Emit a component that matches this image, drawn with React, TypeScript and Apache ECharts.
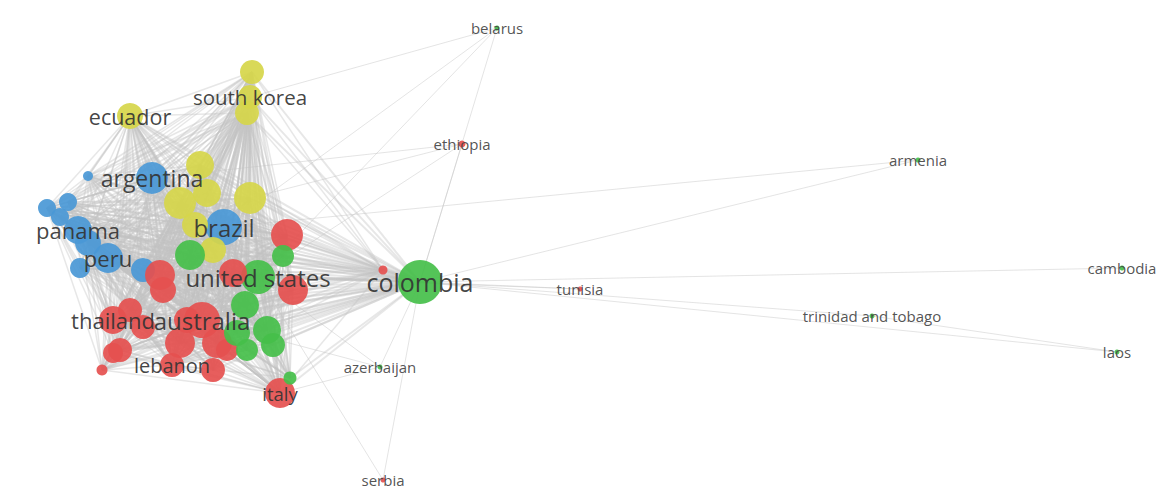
import React, { useEffect, useRef } from "react";
import * as echarts from "echarts";

// ---- data ----
const nodeNames = [
  "colombia", "united states", "brazil", "argentina", "panama", "peru", "thailand", "australia",
  "lebanon", "italy", "ecuador", "south korea",
  "belarus", "ethiopia", "armenia", "cambodia", "tunisia", "trinidad and tobago", "laos", "azerbaijan", "serbia",
  "y1", "y2", "y3", "y4", "y5", "y6", "y7", "y8",
  "b1", "b2", "b3", "b4", "b5", "b6", "b7",
  "r1", "r2", "r3", "r4", "r5", "r6", "r7", "r8", "r9", "r10", "r11", "r12", "r13", "r14", "r15", "r16",
  "g1", "g2", "g3", "g4", "g5", "g6", "g7", "g8",
];
const nodeX = [
  420, 258, 224, 152, 78, 108, 113, 202,
  172, 280, 130, 250,
  497, 462, 918, 1122, 580, 872, 1117, 380, 383,
  252, 247, 200, 180, 207, 250, 195, 213,
  88, 47, 68, 60, 88, 80, 143,
  287, 160, 163, 233, 293, 130, 143, 120, 113, 102, 180, 217, 187, 213, 227, 383,
  283, 190, 245, 267, 237, 273, 247, 290,
];
const nodeY = [
  282, 277, 227, 178, 230, 258, 320, 320,
  365, 393, 116, 97,
  28, 144, 160, 268, 289, 316, 352, 367, 480,
  72, 113, 165, 203, 193, 198, 225, 250,
  176, 208, 202, 217, 243, 268, 270,
  235, 275, 290, 273, 290, 310, 327, 350, 353, 370, 343, 343, 320, 370, 350, 270,
  256, 255, 305, 330, 333, 345, 350, 378,
];
const nodeWeight = [
  44, 34, 36, 32, 28, 30, 28, 36,
  24, 30, 26, 24,
  5, 7, 5, 5, 5, 5, 5, 5, 5,
  24, 24, 28, 32, 28, 32, 26, 26,
  10, 18, 18, 18, 26, 20, 24,
  32, 30, 26, 28, 30, 24, 24, 24, 20, 11, 30, 30, 26, 24, 22, 9,
  22, 30, 28, 28, 26, 24, 22, 13,
];
const nodeCluster = [
  "green", "green", "blue", "blue", "blue", "blue", "red", "red",
  "red", "red", "yellow", "yellow",
  "green", "red", "green", "green", "red", "green", "green", "green", "red",
  "yellow", "yellow", "yellow", "yellow", "yellow", "yellow", "yellow", "yellow",
  "blue", "blue", "blue", "blue", "blue", "blue", "blue",
  "red", "red", "red", "red", "red", "red", "red", "red", "red", "red", "red", "red", "red", "red", "red", "red",
  "green", "green", "green", "green", "green", "green", "green", "green",
];
const labelled = [
  "colombia", "united states", "brazil", "argentina", "panama", "peru", "thailand", "australia",
  "lebanon", "italy", "ecuador", "south korea",
  "belarus", "ethiopia", "armenia", "cambodia", "tunisia", "trinidad and tobago", "laos", "azerbaijan", "serbia",
];
// hubs connected to every node of the main cluster
const hubs = [
  "colombia", "united states", "brazil", "australia", "argentina", "south korea", "ecuador", "italy",
  "peru", "panama", "thailand", "lebanon", "y1", "y2", "y3", "y4", "y6", "r1", "g2", "r5", "b5", "r11",
  "g3", "g4", "r2", "b2",
];
const outlierLinks: [string, string][] = [
  ["belarus", "colombia"], ["belarus", "brazil"], ["belarus", "south korea"], ["belarus", "united states"],
  ["ethiopia", "colombia"], ["ethiopia", "argentina"], ["ethiopia", "united states"], ["ethiopia", "y6"],
  ["armenia", "colombia"], ["armenia", "brazil"],
  ["cambodia", "colombia"],
  ["tunisia", "colombia"], ["tunisia", "united states"],
  ["trinidad and tobago", "colombia"],
  ["laos", "colombia"], ["laos", "trinidad and tobago"],
  ["azerbaijan", "colombia"], ["azerbaijan", "united states"], ["azerbaijan", "italy"], ["azerbaijan", "australia"],
  ["serbia", "colombia"], ["serbia", "united states"],
];
const outliers = ["belarus", "ethiopia", "armenia", "cambodia", "tunisia", "trinidad and tobago", "laos", "azerbaijan", "serbia"];

// ---- styles ----
const clusterColor: Record<string, string> = {
  red: "#e5504f",
  green: "#45bf4a",
  blue: "#4a98d6",
  yellow: "#d6d64a",
};
const labelFont: Record<string, number> = {
  colombia: 25, "united states": 24, brazil: 24, argentina: 23, panama: 22, peru: 22,
  thailand: 22, australia: 24, lebanon: 20, italy: 18.5, ecuador: 21.5, "south korea": 20.5,
};

export default function App() {
  const ref = useRef<HTMLDivElement>(null);
  useEffect(() => {
    if (!ref.current) return;
    const chart = echarts.init(ref.current, undefined, { renderer: "svg" });
    const data = nodeNames.map((name, i) => {
      const isLab = labelled.includes(name);
      const isOut = outliers.includes(name);
      return {
        name,
        value: [nodeX[i], nodeY[i]],
        symbolSize: nodeWeight[i],
        itemStyle: { color: clusterColor[nodeCluster[i]], opacity: 0.92 },
        label: {
          show: isLab,
          position: "inside",
          fontSize: isOut ? 15 : labelFont[name] || 15,
          color: isOut ? "#444" : "#333",
          fontFamily: "Open Sans",
        },
      };
    });
    const links: any[] = [];
    const seen = new Set<string>();
    const add = (a: string, b: string, w: number, o: number) => {
      if (a === b) return;
      const k = a < b ? a + "|" + b : b + "|" + a;
      if (seen.has(k)) return;
      seen.add(k);
      links.push({ source: a, target: b, lineStyle: { width: w, opacity: o } });
    };
    const cluster = nodeNames.filter((n) => !outliers.includes(n));
    hubs.forEach((h) => cluster.forEach((n) => add(h, n, h === "colombia" ? 2 : 1.5, 0.4)));
    outlierLinks.forEach(([a, b]) => add(a, b, 1, 0.45));

    chart.setOption({
      animation: false,
      backgroundColor: "#ffffff",
      grid: { left: 0, right: 0, top: 0, bottom: 0 },
      xAxis: { type: "value", min: 0, max: 1166, show: false },
      yAxis: { type: "value", min: 0, max: 502, inverse: true, show: false },
      series: [
        {
          type: "graph",
          coordinateSystem: "cartesian2d",
          data,
          links,
          lineStyle: { color: "#c4c4c4", curveness: 0 },
          emphasis: { disabled: true },
          silent: true,
        },
      ],
    });
    return () => chart.dispose();
  }, []);
  return (
    <div
      ref={ref}
      style={{ position: "absolute", left: 0, top: 0, width: 1166, height: 502 }}
    />
  );
}
